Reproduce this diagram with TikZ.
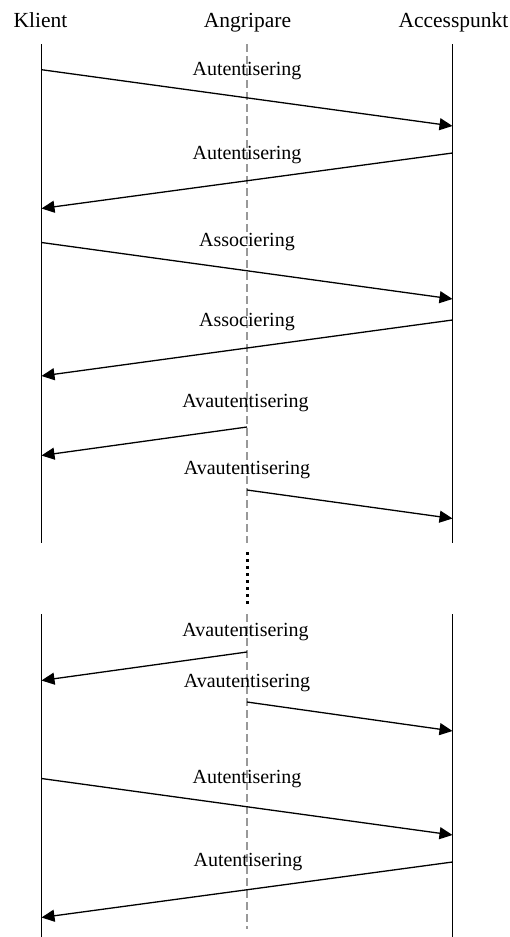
\documentclass[tikz,border=0pt]{standalone}
\usepackage{fontspec}
\setmainfont{Liberation Serif}
\usetikzlibrary{arrows.meta}
\begin{document}
\begin{tikzpicture}[x=1pt,y=-1pt,
  title/.style={anchor=base,inner sep=0pt,font=\fontsize{21.5}{24}\selectfont},
  lbl/.style={anchor=base,inner sep=0pt,font=\fontsize{20}{24}\selectfont},
  lifeline/.style={line width=1.4pt,black},
  attline/.style={line width=1.1pt,draw=black!40,dash pattern=on 8pt off 4pt},
  msg/.style={line width=1.3pt,-{Triangle[length=13pt,width=12pt]}},
  dotline/.style={line width=3pt,dash pattern=on 3pt off 4pt}]
\useasboundingbox (0,0) rectangle (510,937);
% titles
\node[title] (klient) at (40.5,27) {Klient};
\node[title] (angr) at (247.5,27) {Angripare};
\node[title] (ap) at (453.5,27) {Accesspunkt};
% lifelines
\coordinate (K1t) at (41.5,44);  \coordinate (K1b) at (41.5,543);
\coordinate (K2t) at (41.5,614); \coordinate (K2b) at (41.5,937);
\coordinate (A1t) at (452.5,44);  \coordinate (A1b) at (452.5,543);
\coordinate (A2t) at (452.5,614); \coordinate (A2b) at (452.5,937);
\coordinate (M1t) at (247,44);  \coordinate (M1b) at (247,543);
\coordinate (M2t) at (247,614); \coordinate (M2b) at (247,929);
\coordinate (Dt) at (247,552);  \coordinate (Db) at (247,606);
\draw[lifeline] (K1t) -- (K1b);
\draw[lifeline] (K2t) -- (K2b);
\draw[lifeline] (A1t) -- (A1b);
\draw[lifeline] (A2t) -- (A2b);
\draw[attline] (M1t) -- (M1b);
\draw[attline] (M2t) -- (M2b);
\draw[dotline] (Dt) -- (Db);
% message endpoints
\coordinate (s1) at (41.5,69.7);  \coordinate (e1) at (452.5,126);
\coordinate (s2) at (452.5,153);  \coordinate (e2) at (41.5,208.5);
\coordinate (s3) at (41.5,242.5); \coordinate (e3) at (452.5,299);
\coordinate (s4) at (452.5,320);  \coordinate (e4) at (41.5,376);
\coordinate (s5) at (247,427);    \coordinate (e5) at (41.5,455.5);
\coordinate (s6) at (247,490);    \coordinate (e6) at (452.5,518.5);
\coordinate (s7) at (247,652);    \coordinate (e7) at (41.5,680.5);
\coordinate (s8) at (247,702);    \coordinate (e8) at (452.5,731);
\coordinate (s9) at (41.5,778.5); \coordinate (e9) at (452.5,835);
\coordinate (s10) at (452.5,862); \coordinate (e10) at (41.5,917.5);
\draw[msg] (s1) -- (e1);
\draw[msg] (s2) -- (e2);
\draw[msg] (s3) -- (e3);
\draw[msg] (s4) -- (e4);
\draw[msg] (s5) -- (e5);
\draw[msg] (s6) -- (e6);
\draw[msg] (s7) -- (e7);
\draw[msg] (s8) -- (e8);
\draw[msg] (s9) -- (e9);
\draw[msg] (s10) -- (e10);
% labels
\node[lbl] (l1) at (247,75) {Autentisering};
\node[lbl] (l2) at (247,159) {Autentisering};
\node[lbl] (l3) at (247,246.5) {Associering};
\node[lbl] (l4) at (247,326) {Associering};
\node[lbl] (l5) at (245.5,407) {Avautentisering};
\node[lbl] (l6) at (247,474) {Avautentisering};
\node[lbl] (l7) at (245.5,636) {Avautentisering};
\node[lbl] (l8) at (247,687) {Avautentisering};
\node[lbl] (l9) at (247,783) {Autentisering};
\node[lbl] (l10) at (248,866) {Autentisering};
\end{tikzpicture}
\end{document}
